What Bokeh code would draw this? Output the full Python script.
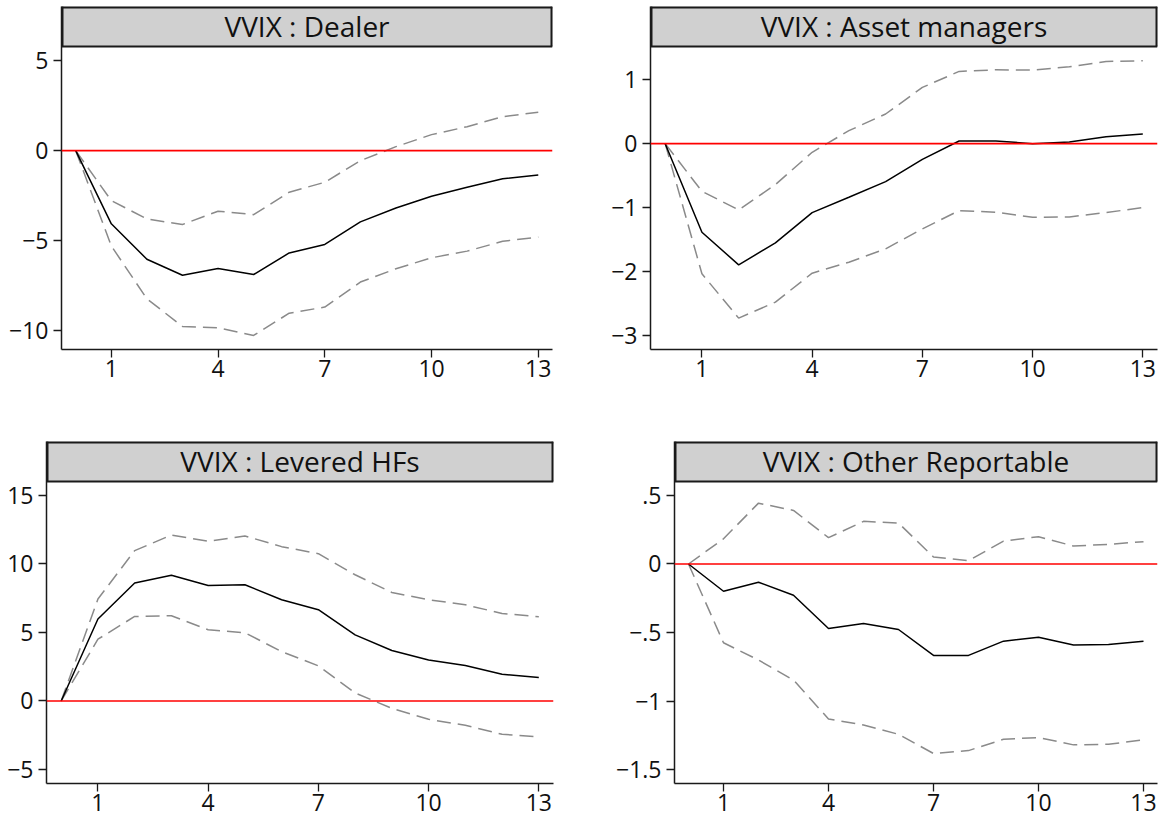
from bokeh.plotting import figure
from bokeh.layouts import column, row
from bokeh.models import FixedTicker, Range1d, Span
from bokeh.embed import file_html
from bokeh.resources import INLINE
from bokeh.core.properties import value

# ---------------- data ----------------
steps = list(range(0, 14))

dealer_irf = [0, -4.07, -6.04, -6.93, -6.56, -6.89, -5.69, -5.22, -3.96, -3.19, -2.54, -2.04, -1.57, -1.35]
dealer_up = [0, -2.78, -3.80, -4.11, -3.37, -3.56, -2.31, -1.76, -0.56, 0.22, 0.89, 1.33, 1.89, 2.13]
dealer_lo = [0, -5.30, -8.24, -9.78, -9.85, -10.28, -9.04, -8.70, -7.31, -6.57, -5.96, -5.59, -5.04, -4.81]

asset_irf = [0, -1.385, -1.896, -1.552, -1.078, -0.839, -0.594, -0.245, 0.042, 0.042, 0.0, 0.026, 0.109, 0.151]
asset_up = [0, -0.745, -1.036, -0.641, -0.135, 0.203, 0.464, 0.880, 1.130, 1.156, 1.151, 1.203, 1.286, 1.297]
asset_lo = [0, -2.036, -2.729, -2.479, -2.026, -1.854, -1.646, -1.333, -1.047, -1.073, -1.151, -1.146, -1.078, -1.0]

lev_irf = [0, 5.97, 8.60, 9.16, 8.42, 8.47, 7.38, 6.65, 4.82, 3.68, 2.99, 2.58, 1.95, 1.70]
lev_up = [0, 7.43, 10.96, 12.10, 11.64, 12.03, 11.25, 10.74, 9.20, 7.91, 7.38, 7.01, 6.38, 6.14]
lev_lo = [0, 4.50, 6.16, 6.21, 5.19, 4.97, 3.60, 2.56, 0.58, -0.54, -1.34, -1.78, -2.43, -2.63]

other_irf = [0, -0.199, -0.133, -0.228, -0.471, -0.434, -0.478, -0.667, -0.667, -0.563, -0.534, -0.592, -0.587, -0.563]
other_up = [0, 0.184, 0.444, 0.391, 0.192, 0.311, 0.299, 0.051, 0.024, 0.167, 0.199, 0.131, 0.143, 0.163]
other_lo = [0, -0.575, -0.701, -0.847, -1.131, -1.175, -1.243, -1.383, -1.362, -1.279, -1.267, -1.320, -1.316, -1.284]

titles = ["VVIX : Dealer", "VVIX : Asset managers", "VVIX : Levered HFs", "VVIX : Other Reportable"]

x_ticks = [1, 4, 7, 10, 13]
dealer_yticks = [-10, -5, 0, 5]
dealer_ylabels = ["\u221210", "\u22125", "0", "5"]
asset_yticks = [-3, -2, -1, 0, 1]
asset_ylabels = ["\u22123", "\u22122", "\u22121", "0", "1"]
lev_yticks = [-5, 0, 5, 10, 15]
lev_ylabels = ["\u22125", "0", "5", "10", "15"]
other_yticks = [-1.5, -1, -0.5, 0, 0.5]
other_ylabels = ["\u22121.5", "\u22121", "\u2212.5", "0", ".5"]

FONT = "Open Sans"
XMIN, XMAX = -0.4, 13.4
HEADER_PX = 40


def panel(title, irf, up, lo, yrange, yticks, ylabels, width, left, right, top,
          plot_h, bottom):
    ymin, ymax = yrange
    # strip above the data area holds the panel title
    ytop = ymax + (ymax - ymin) * HEADER_PX / plot_h
    height = top + plot_h + HEADER_PX + bottom
    p = figure(width=width, height=height, x_range=Range1d(XMIN, XMAX),
               y_range=Range1d(ymin, ytop), toolbar_location=None, output_backend="svg",
               min_border_left=left, min_border_right=right, min_border_top=top,
               min_border_bottom=bottom)
    p.grid.visible = False
    p.outline_line_color = None

    # title strip
    p.quad(left=[XMIN], right=[XMAX], bottom=[ymax], top=[ytop],
           fill_color="#d0d0d0", line_color=None)
    p.segment(x0=[XMIN, XMAX, XMIN], y0=[ytop, ymax, ymax], x1=[XMAX, XMAX, XMIN],
              y1=[ytop, ytop, ytop], line_color="#1a1a1a", line_width=4)
    p.segment(x0=[XMIN], y0=[ymax], x1=[XMAX], y1=[ymax], line_color="#1a1a1a", line_width=2)
    p.text(x=[(XMIN + XMAX) / 2], y=[(ymax + ytop) / 2], text=[title], text_align="center",
           text_baseline="middle", text_font=value(FONT), text_font_size="28px",
           text_color="#111111", y_offset=-1)

    p.add_layout(Span(location=0, dimension="width", line_color="#ff0000", line_width=1.6))
    p.line(steps, up, line_color="#8a8a8a", line_width=1.5, line_dash="14 7")
    p.line(steps, lo, line_color="#8a8a8a", line_width=1.5, line_dash="14 7")
    p.line(steps, irf, line_color="#000000", line_width=1.5)

    p.xaxis.ticker = FixedTicker(ticks=x_ticks)
    p.yaxis.ticker = FixedTicker(ticks=yticks)
    p.yaxis.major_label_overrides = {t: l for t, l in zip(yticks, ylabels)}
    for ax in (p.xaxis[0], p.yaxis[0]):
        ax.axis_line_color = "#1a1a1a"
        ax.axis_line_width = 1.5
        ax.major_tick_line_color = "#1a1a1a"
        ax.major_tick_line_width = 1.3
        ax.major_tick_out = 8
        ax.major_tick_in = 0
        ax.minor_tick_line_color = None
        ax.major_label_text_font = FONT
        ax.major_label_text_font_size = "23px"
        ax.major_label_text_color = "#111111"
    p.xaxis.major_label_standoff = 2
    p.yaxis.major_label_standoff = 5
    return p


tl = panel(titles[0], dealer_irf, dealer_up, dealer_lo, (-11.06, 5.79), dealer_yticks,
           dealer_ylabels, 580, 61, 28, 6, 303, 90)
tr = panel(titles[1], asset_irf, asset_up, asset_lo, (-3.22, 1.52), asset_yticks,
           asset_ylabels, 579, 70, 2, 6, 303, 90)
bl = panel(titles[2], lev_irf, lev_up, lev_lo, (-6.02, 16.0), lev_yticks, lev_ylabels,
           580, 46, 27, 2, 302, 41)
br = panel(titles[3], other_irf, other_up, other_lo, (-1.602, 0.602), other_yticks,
           other_ylabels, 579, 94, 2, 2, 302, 41)

root = column(row(tl, tr), row(bl, br))

open("out.html", "w").write(file_html(root, INLINE))
